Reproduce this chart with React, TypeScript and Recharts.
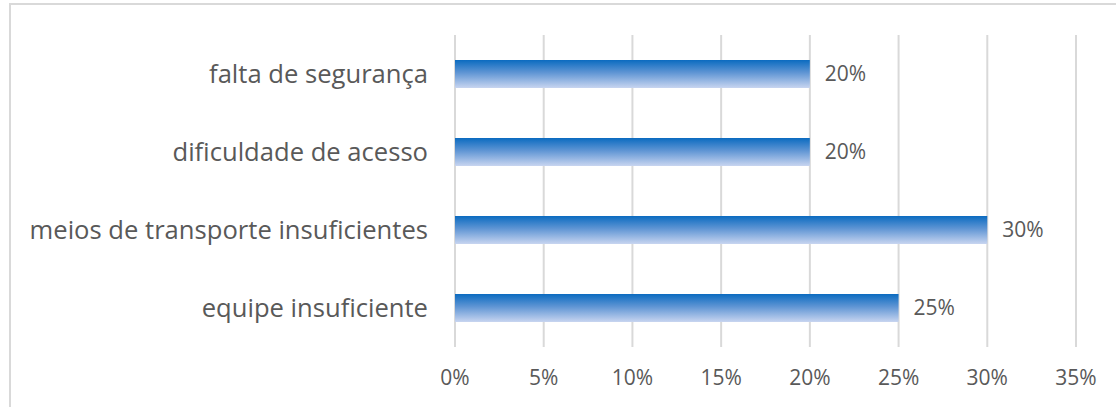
import React from "react";
import { BarChart, Bar, XAxis, YAxis, CartesianGrid, LabelList } from "recharts";

const categories = [
  "falta de segurança",
  "dificuldade de acesso",
  "meios de transporte insuficientes",
  "equipe insuficiente",
];
const shares = [0.2, 0.2, 0.3, 0.25];
const xTicks = [0, 0.05, 0.1, 0.15, 0.2, 0.25, 0.3, 0.35];

const data = categories.map((name, i) => ({ name, value: shares[i] }));

const pct = (v: number) => `${Math.round(v * 100)}%`;
const font = "'Open Sans', sans-serif";

export default function App() {
  return (
    <div style={{ position: "absolute", left: 0, top: 0, width: 1116, height: 407, background: "#fff", overflow: "hidden" }}>
      <div
        style={{
          position: "absolute", left: 9, top: 3, width: 1130, height: 430,
          border: "2px solid #d9d9d9", boxSizing: "border-box",
        }}
      />
      <BarChart
        width={1116}
        height={407}
        data={data}
        layout="vertical"
        margin={{ top: 35, right: 40, bottom: 0, left: 0 }}
        style={{ position: "absolute", left: 0, top: 0, fontFamily: font }}
      >
        <defs>
          <linearGradient id="barGrad" x1="0" y1="0" x2="0" y2="1">
            <stop offset="0%" stopColor="#0b6bc0" />
            <stop offset="45%" stopColor="#5f95d4" />
            <stop offset="100%" stopColor="#c8d5f0" />
          </linearGradient>
        </defs>
        <CartesianGrid horizontal={false} stroke="#d9d9d9" strokeWidth={2} />
        <XAxis
          type="number"
          domain={[0, 0.35]}
          ticks={xTicks}
          tickFormatter={pct}
          axisLine={false}
          tickLine={false}
          tickSize={0}
          tickMargin={23}
          height={60}
          tick={{ fill: "#595959", fontSize: 21, fontFamily: font }}
          interval={0}
        />
        <YAxis
          type="category"
          dataKey="name"
          width={455}
          axisLine={false}
          tickLine={false}
          tickSize={0}
          tickMargin={27}
          tick={{ fill: "#595959", fontSize: 25.6, fontFamily: font }}
        />
        <Bar dataKey="value" fill="url(#barGrad)" barSize={28} isAnimationActive={false}>
          <LabelList dataKey="value" position="right" offset={15} formatter={(v: any) => pct(Number(v))} style={{ fill: "#595959", fontSize: 21, fontFamily: font }} />
        </Bar>
      </BarChart>
    </div>
  );
}
